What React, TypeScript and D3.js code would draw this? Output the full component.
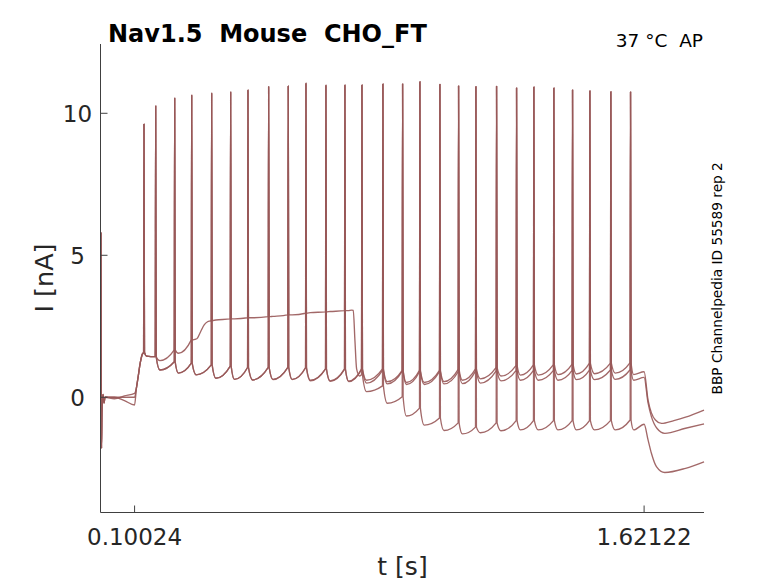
import React from 'react';
import * as d3 from 'd3';

type Pt = [number, number];

const W = 778;
const H = 583;

// stimulus on/off times (s) — also the x tick values
const stimOn = 0.10024;
const stimOff = 1.62122;
const xTicks = [stimOn, stimOff];
const xTickLabels = ['0.10024', '1.62122'];
const yTicks = [0, 5, 10];

// spike times (s) and peak currents (nA)
const spikeTimes = [0.1283, 0.1632, 0.2199, 0.2707, 0.3303, 0.387, 0.4387, 0.5004, 0.5589, 0.6118, 0.6714, 0.7281, 0.7789, 0.8415, 0.9003, 0.9519, 1.0116, 1.0674, 1.1191, 1.1808, 1.2405, 1.2921, 1.3518, 1.4076, 1.4593, 1.5219, 1.5807];
const spikePeaks = [9.62, 10.26, 10.53, 10.64, 10.71, 10.75, 10.82, 10.94, 10.96, 11.06, 10.99, 11.0, 11.0, 11.03, 11.03, 11.11, 11.02, 10.96, 10.94, 10.95, 10.89, 10.93, 10.89, 10.82, 10.79, 10.76, 10.75];

// initial capacitive transient (shared)
const transient: Pt[] = [[0, 5.8], [0.0015, -1.8], [0.003, -0.5], [0.006, 0.1], [0.009, -0.2], [0.012, 0]];
// onset ramp (shared)
const ramp: Pt[] = [[0.106, 0.35], [0.111, 0.73], [0.117, 1.2], [0.1235, 1.52]];

// trace A
const preA: Pt[] = [[0.04, -0.05], [0.07, 0.05], [0.1002, 0.14]];
const troughsA = [1.45, 0.96, 0.85, 0.79, 0.67, 0.63, 0.61, 0.63, 0.63, 0.6, 0.58, 0.57, 0.6, 0.55, 0.52, 0.52, 0.55, 0.6, 0.65, 0.75, 0.78, 0.78, 0.8, 0.82, 0.83, 0.85];
const presA = [1.43, 1.25, 1.2, 1.14, 1.1, 1.05, 1.05, 1.05, 1.05, 1.0, 1.0, 1.0, 1.0, 0.95, 0.95, 0.95, 0.98, 1.0, 1.05, 1.12, 1.14, 1.15, 1.17, 1.2, 1.2, 1.22];
const tailA: Pt[] = [[1.59, 0.8], [1.6212, 0.9], [1.633, -0.1], [1.643, -0.55], [1.655, -0.8], [1.673, -0.92], [1.71, -0.82], [1.745, -0.7], [1.8, -0.45]];

// trace B
const preB: Pt[] = [[0.04, 0.0], [0.07, -0.12], [0.1002, -0.27]];
const troughsB = [1.45, 0.96, 0.85, 0.79, 0.67, 0.63, 0.61, 0.62, 0.62, 0.58, 0.56, 0.55, 0.5, 0.47, 0.45, 0.45, 0.47, 0.48, 0.5, 0.58, 0.6, 0.6, 0.6, 0.62, 0.62, 0.63];
const presB = [1.43, 1.25, 1.2, 1.14, 1.1, 1.05, 1.05, 1.05, 1.03, 1.0, 0.98, 0.98, 0.95, 0.92, 0.9, 0.9, 0.9, 0.92, 0.93, 0.95, 0.95, 0.95, 0.95, 0.96, 0.96, 0.97];
const tailB: Pt[] = [[1.59, 0.6], [1.6212, 0.7], [1.633, -0.2], [1.643, -0.68], [1.66, -1.1], [1.683, -1.27], [1.745, -1.09], [1.8, -0.94]];

// trace C
const preC: Pt[] = [[0.05, 0.0], [0.1002, 0.0]];
const troughsC = [1.45, 1.29, 1.55, 2.04, 2.72, 2.76, 2.8, 2.85, 2.9, 2.98, 3.02, 3.05, 0.2, -0.21, -0.66, -0.98, -1.17, -1.29, -1.25, -1.18, -1.15, -1.15, -1.15, -1.15, -1.15, -1.15];
const presC = [1.43, 1.67, 2.02, 2.7, 2.76, 2.8, 2.84, 2.9, 2.96, 3.01, 3.05, 0.8, 0.4, 0.02, -0.38, -0.73, -0.9, -1.05, -0.9, -0.82, -0.82, -0.82, -0.82, -0.82, -0.82, -0.8];
const tailC: Pt[] = [[1.59, -1.15], [1.6212, -0.95], [1.633, -1.5], [1.643, -1.97], [1.658, -2.44], [1.683, -2.65], [1.745, -2.5], [1.8, -2.27]];
const stepRiseC: Pt[] = [[0.28, 2.04], [0.286, 2.06], [0.297, 2.3], [0.308, 2.55], [0.318, 2.66]];
const dropC: Pt[] = [[0.738, 3.05], [0.748, 3.07], [0.753, 3.06], [0.758, 2.0], [0.763, 1.0], [0.772, 0.75]];

function buildTrace(pre: Pt[], troughs: number[], pres: number[], tail: Pt[], special: Record<number, Pt[]> = {}): Pt[] {
  const pts: Pt[] = [...transient, ...pre, ...ramp];
  const firstPre = 1.58;
  spikeTimes.forEach((ts, i) => {
    const pv = i === 0 ? firstPre : pres[i - 1];
    pts.push([ts - 0.0012, pv], [ts, spikePeaks[i]], [ts + 0.0015, pv]);
    if (i < spikeTimes.length - 1) {
      const d = spikeTimes[i + 1] - ts;
      if (special[i]) pts.push(...special[i]);
      else pts.push([ts + 0.22 * d, troughs[i]]);
    }
  });
  pts.push(...tail);
  return pts;
}

const traces: Pt[][] = [
  buildTrace(preA, troughsA, presA, tailA),
  buildTrace(preB, troughsB, presB, tailB),
  buildTrace(preC, troughsC, presC, tailC, { 3: stepRiseC, 11: dropC }),
];

export default function App() {
  const x = d3.scaleLinear().domain([0, 1.8]).range([101, 704]);
  const y = d3.scaleLinear().domain([-4.05, 12.44]).range([512.3, 44]);
  const line = d3
    .line<Pt>()
    .x((d) => x(d[0]))
    .y((d) => y(d[1]))
    .curve(d3.curveMonotoneX);
  const font = 'DejaVu Sans, sans-serif';
  const axisColor = '#404040';
  const x0 = 100.5;
  const yb = 512.5;
  const pre = { whiteSpace: 'pre' as const };
  return (
    <svg width={W} height={H} style={{ position: 'absolute', left: 0, top: 0, background: '#fff' }}>
      <rect x={0} y={0} width={W} height={H} fill="#fff" />
      {traces.map((t, i) => (
        <path key={i} d={line(t) || ''} fill="none" stroke="#985858" strokeWidth={1.35} strokeOpacity={0.9} strokeLinejoin="round" />
      ))}
      {/* axes */}
      <line x1={x0} x2={x0} y1={y(12.44)} y2={yb} stroke={axisColor} strokeWidth={1} />
      <line x1={x0} x2={x(1.8)} y1={yb} y2={yb} stroke={axisColor} strokeWidth={1} />
      {yTicks.map((v) => (
        <g key={v}>
          <line x1={x0} x2={x0 + 7} y1={y(v)} y2={y(v)} stroke={axisColor} strokeWidth={1} />
          <text x={77.5} y={y(v)} dy="0.36em" textAnchor="middle" fontFamily={font} fontSize={23} fill="#262626">
            {v}
          </text>
        </g>
      ))}
      {xTicks.map((v, i) => (
        <g key={v}>
          <line x1={x(v)} x2={x(v)} y1={yb} y2={yb - 7} stroke={axisColor} strokeWidth={1} />
          <text x={x(v)} y={545} textAnchor="middle" fontFamily={font} fontSize={23} fill="#262626">
            {xTickLabels[i]}
          </text>
        </g>
      ))}
      <text x={402.5} y={575} textAnchor="middle" fontFamily={font} fontSize={25} fill="#262626">
        t [s]
      </text>
      <text transform={`translate(53,278) rotate(-90)`} textAnchor="middle" fontFamily={font} fontSize={25.5} fill="#262626">
        I [nA]
      </text>
      <text x={108} y={41.7} fontFamily={font} fontSize={24} fontWeight="bold" fill="#000" style={pre}>
        {'Nav1.5  Mouse  CHO_FT'}
      </text>
      <text x={703} y={47.3} textAnchor="end" fontFamily={font} fontSize={18.5} fill="#000" style={pre}>
        {'37 °C  AP'}
      </text>
      <text transform={`translate(721.7,278.3) rotate(-90)`} textAnchor="middle" fontFamily={font} fontSize={13.7} fill="#000">
        BBP Channelpedia ID 55589 rep 2
      </text>
    </svg>
  );
}
